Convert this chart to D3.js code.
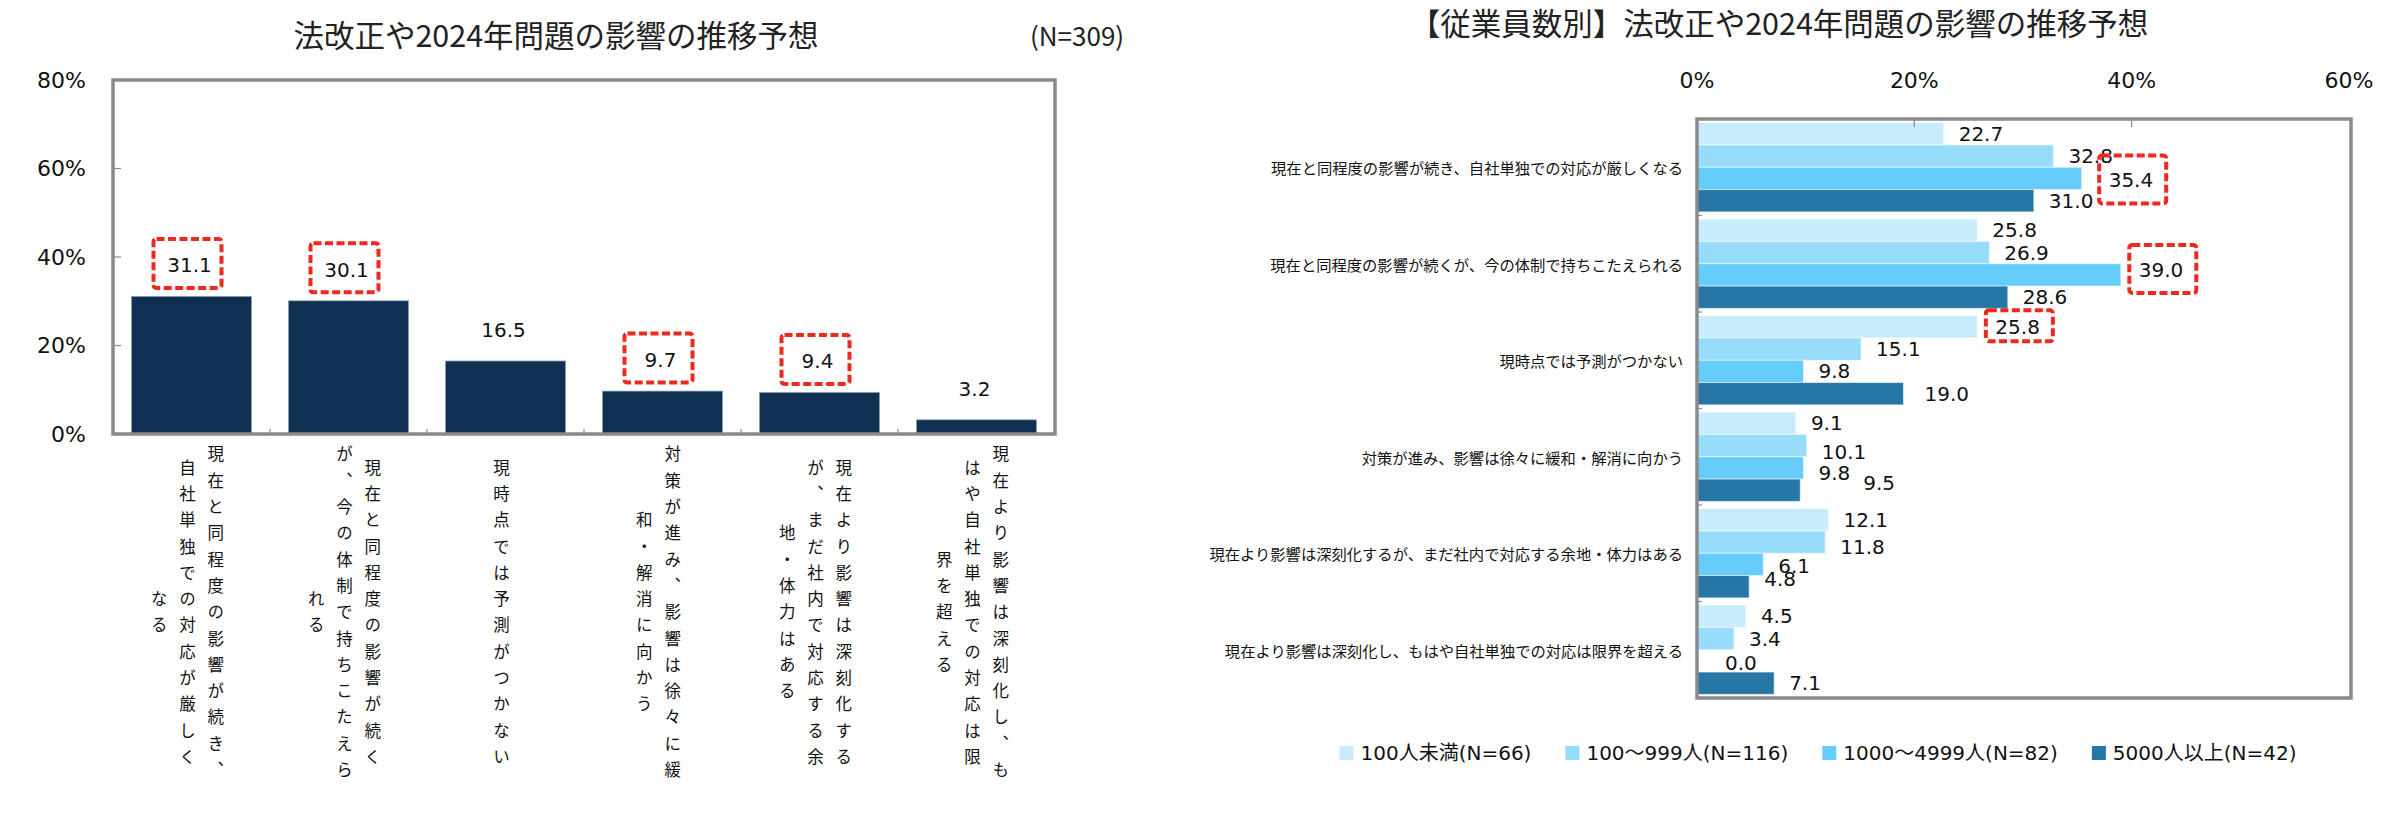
<!DOCTYPE html>
<html>
<head>
<meta charset="utf-8">
<script src="https://cdn.jsdelivr.net/npm/d3@7"></script>
<style>
  body { margin: 0; background: #fff; }
  svg { display: block; }
  .jp { font-family: 'Noto Sans CJK JP', sans-serif; }
  .num { font-family: 'DejaVu Sans', 'Noto Sans CJK JP', sans-serif; }
</style>
</head>
<body>
<div id="chart"></div>
<script>
// categories (answers)
const categories = [
  '現在と同程度の影響が続き、自社単独での対応が厳しくなる',
  '現在と同程度の影響が続くが、今の体制で持ちこたえられる',
  '現時点では予測がつかない',
  '対策が進み、影響は徐々に緩和・解消に向かう',
  '現在より影響は深刻化するが、まだ社内で対応する余地・体力はある',
  '現在より影響は深刻化し、もはや自社単独での対応は限界を超える'
];
// same labels, wrapped into vertical columns for the left chart (right to left)
const categoryColumns = [
  ['現在と同程度の影響が続き、', '自社単独での対応が厳しく', 'なる'],
  ['現在と同程度の影響が続く', 'が、今の体制で持ちこたえら', 'れる'],
  ['現時点では予測がつかない'],
  ['対策が進み、影響は徐々に緩', '和・解消に向かう'],
  ['現在より影響は深刻化する', 'が、まだ社内で対応する余', '地・体力はある'],
  ['現在より影響は深刻化し、も', 'はや自社単独での対応は限', '界を超える']
];

// left chart: all respondents (N=309)
const totalValues = [31.1, 30.1, 16.5, 9.7, 9.4, 3.2];
const totalMarked = [0, 1, 3, 4];

// right chart: by number of employees
const sizeGroups = ['100人未満(N=66)', '100〜999人(N=116)', '1000〜4999人(N=82)', '5000人以上(N=42)'];
const under100 = [22.7, 25.8, 25.8, 9.1, 12.1, 4.5];
const from100to999 = [32.8, 26.9, 15.1, 10.1, 11.8, 3.4];
const from1000to4999 = [35.4, 39.0, 9.8, 9.8, 6.1, 0.0];
const over5000 = [31.0, 28.6, 19.0, 9.5, 4.8, 7.1];
const groupMarked = [[0, 2], [1, 2], [2, 0]];

const leftTicks = [0, 20, 40, 60, 80];
const rightTicks = [0, 20, 40, 60];

const navy = '#0f3052';
const groupColors = ['#c8ecfb', '#97dcfa', '#66ccfb', '#2676a6'];
const frameColor = '#8a8a8a';
const red = '#ec2a20';

const W = 2400, H = 814;
const svg = d3.select('#chart').append('svg')
  .attr('width', W)
  .attr('height', H);

function dashedBox(g, cx, cy, w, h) {
  g.append('rect')
    .attr('x', cx - w / 2).attr('y', cy - h / 2)
    .attr('width', w).attr('height', h)
    .attr('rx', 3)
    .attr('fill', 'none')
    .attr('stroke', red)
    .attr('stroke-width', 4)
    .attr('stroke-dasharray', '8 3.5');
}

// ---------- left chart ----------
(function leftChart() {
  const g = svg.append('g');
  const x0 = 113, x1 = 1055, y0 = 434, y1 = 80;

  const x = d3.scaleBand()
    .domain(d3.range(categories.length))
    .range([x0, x1])
    .paddingInner(0.235)
    .paddingOuter(0.1175);
  const y = d3.scaleLinear().domain([0, 80]).range([y0, y1]);

  g.append('text')
    .attr('class', 'jp')
    .attr('x', 556).attr('y', 34)
    .attr('text-anchor', 'middle')
    .attr('dominant-baseline', 'central')
    .attr('font-size', 30.5)
    .attr('fill', '#222')
    .text('法改正や2024年問題の影響の推移予想');

  g.append('text')
    .attr('class', 'jp')
    .attr('x', 1030).attr('y', 34)
    .attr('dominant-baseline', 'central')
    .attr('font-size', 26)
    .attr('fill', '#222')
    .text('(N=309)');

  // y labels
  g.selectAll('.ylab')
    .data(leftTicks)
    .enter().append('text')
    .attr('class', 'num')
    .attr('x', 86)
    .attr('y', d => y(d))
    .attr('text-anchor', 'end')
    .attr('dominant-baseline', 'central')
    .attr('font-size', 22)
    .attr('fill', '#111')
    .text(d => d + '%');

  // bars
  g.selectAll('.bar')
    .data(totalValues)
    .enter().append('rect')
    .attr('x', (d, i) => x(i))
    .attr('y', d => y(d))
    .attr('width', x.bandwidth())
    .attr('height', d => y0 - y(d))
    .attr('fill', navy)
    .attr('stroke', '#8da0b4')
    .attr('stroke-width', 0.8);

  // frame + ticks
  g.append('rect')
    .attr('x', x0).attr('y', y1)
    .attr('width', x1 - x0).attr('height', y0 - y1)
    .attr('fill', 'none')
    .attr('stroke', frameColor)
    .attr('stroke-width', 3.5);

  g.selectAll('.ytick')
    .data(leftTicks.slice(1, -1))
    .enter().append('line')
    .attr('x1', x0).attr('x2', x0 + 8)
    .attr('y1', d => y(d)).attr('y2', d => y(d))
    .attr('stroke', frameColor)
    .attr('stroke-width', 1.2);

  g.selectAll('.xtick')
    .data(d3.range(1, categories.length))
    .enter().append('line')
    .attr('x1', i => x(i) - x.step() * x.paddingInner() / 2)
    .attr('x2', i => x(i) - x.step() * x.paddingInner() / 2)
    .attr('y1', y0).attr('y2', y0 - 5)
    .attr('stroke', frameColor)
    .attr('stroke-width', 1.2);

  // value labels
  const labelY = d => y(d) - 31;
  g.selectAll('.val')
    .data(totalValues)
    .enter().append('text')
    .attr('class', 'num')
    .attr('x', (d, i) => x(i) + x.bandwidth() / 2 - 2)
    .attr('y', labelY)
    .attr('text-anchor', 'middle')
    .attr('dominant-baseline', 'central')
    .attr('font-size', 20)
    .attr('fill', '#111')
    .text(d => d.toFixed(1));

  totalMarked.forEach(i => {
    dashedBox(g, x(i) + x.bandwidth() / 2 - 4, labelY(totalValues[i]) - 2, 68, 49);
  });

  // vertical category labels
  const fs = 16.5, pitch = 26.3, colStep = 28.3, midY = 612;
  categoryColumns.forEach((cols, i) => {
    const cx = x(i) + x.bandwidth() / 2 - 4;
    cols.forEach((col, k) => {
      const n = Array.from(col).length;
      const len = n * pitch - (pitch - fs);
      g.append('text')
        .attr('class', 'jp')
        .attr('x', cx + ((cols.length - 1) / 2 - k) * colStep)
        .attr('y', midY - len / 2)
        .style('writing-mode', 'vertical-rl')
        .style('letter-spacing', (pitch - fs) + 'px')
        .attr('font-size', fs)
        .attr('fill', '#111')
        .text(col);
    });
  });
})();

// ---------- right chart ----------
(function rightChart() {
  const g = svg.append('g');
  const x0 = 1697, x1 = 2351, y0 = 119, y1 = 698;
  const series = [under100, from100to999, from1000to4999, over5000];

  const x = d3.scaleLinear().domain([0, 60]).range([x0, 2349]);
  const y = d3.scaleBand()
    .domain(d3.range(categories.length))
    .range([y0, y1])
    .paddingInner(0.075)
    .paddingOuter(0.0375);
  const ys = d3.scaleBand()
    .domain(d3.range(series.length))
    .range([0, y.bandwidth()]);

  g.append('text')
    .attr('class', 'jp')
    .attr('x', 1779).attr('y', 22)
    .attr('text-anchor', 'middle')
    .attr('dominant-baseline', 'central')
    .attr('font-size', 30.5)
    .attr('fill', '#222')
    .text('【従業員数別】法改正や2024年問題の影響の推移予想');

  g.selectAll('.xlab')
    .data(rightTicks)
    .enter().append('text')
    .attr('class', 'num')
    .attr('x', d => x(d))
    .attr('y', 80)
    .attr('text-anchor', 'middle')
    .attr('dominant-baseline', 'central')
    .attr('font-size', 22)
    .attr('fill', '#111')
    .text(d => d + '%');

  g.selectAll('.cat')
    .data(categories)
    .enter().append('text')
    .attr('class', 'jp')
    .attr('x', 1683)
    .attr('y', (d, i) => y(i) + y.bandwidth() / 2)
    .attr('text-anchor', 'end')
    .attr('dominant-baseline', 'central')
    .attr('font-size', 15.3)
    .attr('fill', '#111')
    .text(d => d);

  const cells = [];
  categories.forEach((c, i) => series.forEach((s, k) => cells.push({i, k, v: s[i]})));

  g.selectAll('.bar')
    .data(cells)
    .enter().append('rect')
    .attr('x', x0)
    .attr('y', d => y(d.i) + ys(d.k))
    .attr('width', d => x(d.v) - x0)
    .attr('height', ys.bandwidth())
    .attr('fill', d => groupColors[d.k])
    .attr('stroke', d => d.v > 0 ? 'rgba(255,255,255,0.55)' : 'none')
    .attr('stroke-width', 1);

  g.append('rect')
    .attr('x', x0).attr('y', y0)
    .attr('width', x1 - x0).attr('height', y1 - y0)
    .attr('fill', 'none')
    .attr('stroke', frameColor)
    .attr('stroke-width', 3.5);

  g.selectAll('.xtick')
    .data(rightTicks.slice(1, -1))
    .enter().append('line')
    .attr('x1', d => x(d)).attr('x2', d => x(d))
    .attr('y1', y0).attr('y2', y0 + 8)
    .attr('stroke', frameColor)
    .attr('stroke-width', 1.2);

  g.selectAll('.ytick')
    .data(d3.range(1, categories.length))
    .enter().append('line')
    .attr('x1', x0).attr('x2', x0 + 5)
    .attr('y1', i => y(i) - y.step() * y.paddingInner() / 2)
    .attr('y2', i => y(i) - y.step() * y.paddingInner() / 2)
    .attr('stroke', frameColor)
    .attr('stroke-width', 1.2);

  // hand-placed label nudges, as in the original chart [group, series, dx, dy]
  const nudges = [[0, 2, 12, 2], [1, 2, 3, -5], [2, 0, 3, 0], [2, 3, 6, 0],
    [3, 1, 0, 6], [3, 2, 0, 5], [3, 3, 48, -7],
    [4, 1, 0, 5], [4, 2, 0, 2], [4, 3, 0, -8], [5, 2, 13, 2]];
  const nudge = (i, k) => nudges.find(n => n[0] === i && n[1] === k) || [i, k, 0, 0];

  const lx = d => x(d.v) + 15 + nudge(d.i, d.k)[2];
  const ly = d => y(d.i) + ys(d.k) + ys.bandwidth() / 2 + nudge(d.i, d.k)[3];

  g.selectAll('.val')
    .data(cells)
    .enter().append('text')
    .attr('class', 'num')
    .attr('x', lx)
    .attr('y', ly)
    .attr('dominant-baseline', 'central')
    .attr('font-size', 20)
    .attr('fill', '#111')
    .text(d => d.v.toFixed(1));

  groupMarked.forEach(([i, k]) => {
    const d = cells.find(c => c.i === i && c.k === k);
    const h = i === 2 ? 31 : 48;
    dashedBox(g, lx(d) + 24, ly(d) - 1, 67, h);
  });

  // legend
  const leg = g.append('g');
  let cx = 0;
  sizeGroups.forEach((name, k) => {
    leg.append('rect')
      .attr('x', cx).attr('y', -7)
      .attr('width', 14).attr('height', 14)
      .attr('fill', groupColors[k]);
    const t = leg.append('text')
      .attr('class', 'num')
      .attr('x', cx + 21).attr('y', 0)
      .attr('dominant-baseline', 'central')
      .attr('font-size', 20)
      .attr('fill', '#111')
      .text(name);
    cx += 21 + t.node().getComputedTextLength() + 34;
  });
  const legW = cx - 34;
  leg.attr('transform', `translate(${1818 - legW / 2},753)`);
})();
</script>
</body>
</html>
